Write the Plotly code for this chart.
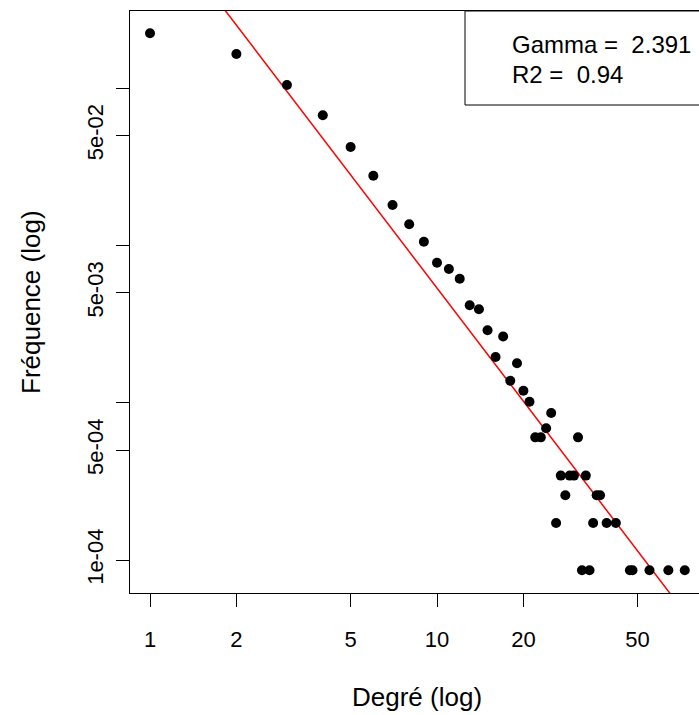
import math
import plotly.graph_objects as go

# Degree (k) and frequency
degree = [1, 2, 3, 4, 5, 6, 7, 8, 9, 10, 11, 12, 13, 14, 15, 16, 17, 18, 19, 20,
          21, 22, 23, 24, 25, 26, 27, 28, 29, 30, 31, 32, 33, 34, 35, 36, 37, 39,
          42, 47, 48, 55, 64, 73]
frequency = [0.2231, 0.1647, 0.1046, 0.06717, 0.04222, 0.02770, 0.01806, 0.01362,
             0.01056, 0.007762, 0.007079, 0.006143, 0.004160, 0.003925, 0.002890,
             0.001952, 0.002636, 0.001378, 0.001780, 0.001192, 0.001013, 0.000602,
             0.000602, 0.000688, 0.000860, 0.000172, 0.000344, 0.000258, 0.000344,
             0.000344, 0.000602, 0.000086, 0.000344, 0.000086, 0.000172, 0.000258,
             0.000258, 0.000172, 0.000172, 0.000086, 0.000086, 0.000086, 0.000086,
             0.000086]

# Power-law fit: log10(f) = log10_c - gamma * log10(k)
gamma = 2.391
r2 = 0.94
log10_c = 0.1198
fit_k = [1.0, 100.0]
fit_f = [10 ** (log10_c - gamma * math.log10(k)) for k in fit_k]

x_ticks = [1, 2, 5, 10, 20, 50]
x_tick_text = ["1", "2", "5", "10", "20", "50"]
y_ticks = [1e-4, 5e-4, 1e-3, 5e-3, 1e-2, 5e-2, 1e-1]
y_tick_text = ["1e-04", "5e-04", "", "5e-03", "", "5e-02", ""]

FONT = "Liberation Sans, Arial, sans-serif"
FS = 22
TITLE_FS = 26

fig = go.Figure()
fig.add_trace(go.Scatter(x=fit_k, y=fit_f, mode="lines",
                         line=dict(color="#ff0000", width=1.5),
                         hoverinfo="skip", showlegend=False))
fig.add_trace(go.Scatter(x=degree, y=frequency, mode="markers",
                         marker=dict(color="black", size=10),
                         showlegend=False))

fig.update_layout(
    width=699, height=715,
    margin=dict(l=130, r=0, t=11, b=122),
    paper_bgcolor="white", plot_bgcolor="white",
    font=dict(family=FONT, size=FS, color="black"),
    xaxis=dict(type="log", range=[-0.0697, 1.9129],
               tickvals=x_ticks, ticktext=x_tick_text,
               ticks="outside", ticklen=13, tickwidth=1, tickcolor="black",
               ticklabelstandoff=14,
               showline=True, linecolor="black", linewidth=1, mirror=True,
               showgrid=False, zeroline=False),
    yaxis=dict(type="log", range=[-4.2098, -0.5099],
               tickvals=y_ticks, ticktext=y_tick_text, tickangle=-90,
               ticks="outside", ticklen=13, tickwidth=1, tickcolor="black",
               ticklabelstandoff=4,
               showline=True, linecolor="black", linewidth=1, mirror=False,
               showgrid=False, zeroline=False),
    shapes=[dict(type="rect", xref="paper", yref="paper",
                 x0=(465 - 130) / 569, x1=1.2, y0=1 - 94 / 582, y1=1,
                 line=dict(color="black", width=1), fillcolor="rgba(0,0,0,0)")],
    annotations=[
        dict(xref="paper", yref="paper", x=(510 - 130) / 569, y=1 - 33 / 582,
             xanchor="left", yanchor="middle", showarrow=False,
             text="Gamma = \u00a0" + str(gamma), font=dict(size=24)),
        dict(xref="paper", yref="paper", x=(510 - 130) / 569, y=1 - 63 / 582,
             xanchor="left", yanchor="middle", showarrow=False,
             text="R2 = \u00a0" + str(r2), font=dict(size=24)),
        dict(xref="paper", yref="paper", x=(417 - 130) / 569, y=(593 - 697) / 582,
             xanchor="center", yanchor="middle", showarrow=False,
             text="Degré (log)", font=dict(size=TITLE_FS)),
        dict(xref="paper", yref="paper", x=(31 - 130) / 569, y=0.5,
             xanchor="center", yanchor="middle", showarrow=False, textangle=-90,
             text="Fréquence (log)", font=dict(size=TITLE_FS)),
    ],
)

fig.write_html("out.html")
